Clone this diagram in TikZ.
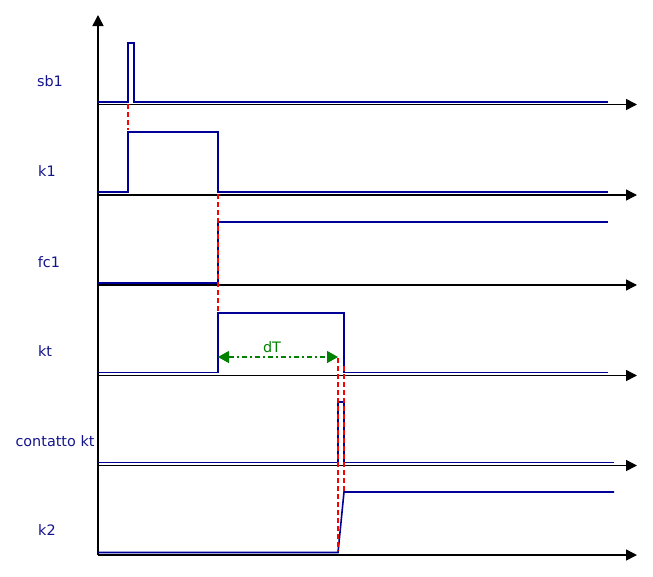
\documentclass[tikz,border=0pt]{standalone}
\usepackage{fontspec}
\setmainfont{DejaVu Sans}
\usetikzlibrary{arrows.meta}
\definecolor{sig}{RGB}{0,0,150}
\definecolor{lbl}{RGB}{20,20,140}
\definecolor{dtgreen}{RGB}{0,130,0}
\begin{document}
\begin{tikzpicture}[x=1pt,y=-1pt,
  axis/.style={black,line width=1.5pt,-{Triangle[length=11pt,width=11pt]}},
  signal/.style={sig,line width=1.6pt},
  guide/.style={red,line width=1.4pt,dash pattern=on 5pt off 3pt},
  lab/.style={lbl,font=\fontsize{14.4}{16}\selectfont,inner sep=0pt},
  dtline/.style={dtgreen,line width=1.3pt,dash pattern=on 5pt off 3pt on 2pt off 3pt,
     {Triangle[length=11pt,width=12pt]}-{Triangle[length=11pt,width=12pt]}}]
\useasboundingbox (0,0) rectangle (653,576);
% vertical axis
\coordinate (o) at (98,555);
\coordinate (ytop) at (98,15);
\draw[axis] (o) -- (ytop);
% horizontal axes
\foreach \n/\y in {a1/104.5,a2/195,a3/285,a4/375.5,a5/465.5,a6/555}{
  \coordinate (\n s) at (98,\y);
  \coordinate (\n e) at (637,\y);
  \draw[axis] (\n s) -- (\n e);
}
% labels
\node[lab] (lsb1) at (50,81) {sb1};
\node[lab] (lk1) at (47,171) {k1};
\node[lab] (lfc1) at (49,262) {fc1};
\node[lab] (lkt) at (45,351) {kt};
\node[lab] (lcont) at (55,441) {contatto kt};
\node[lab] (lk2) at (47,530) {k2};
% signals
\draw[signal] (98,102) -- (128,102) -- (128,43) -- (134,43) -- (134,102) -- (608,102);
\draw[signal] (98,192) -- (128,192) -- (128,132) -- (218,132) -- (218,192) -- (608,192);
\draw[signal] (98,283) -- (218,283) -- (218,222) -- (608,222);
\draw[signal] (98,372.5) -- (218,372.5) -- (218,313) -- (344,313) -- (344,372.5) -- (608,372.5);
\draw[signal] (98,462.5) -- (338,462.5) -- (338,402) -- (344,402) -- (344,462.5) -- (614,462.5);
\draw[signal] (98,552.5) -- (338,552.5) -- (344,492) -- (614,492);
% guides
\draw[guide] (128,104) -- (128,130);
\draw[guide] (218,194) -- (218,312);
\draw[guide] (338,358) -- (338,551);
\draw[guide] (344,366) -- (344,491);
% dT
\coordinate (dta) at (218,357);
\coordinate (dtb) at (338,357);
\draw[dtline] (dta) -- (dtb);
\node[lab,text=dtgreen] (ldt) at (272,347) {dT};
\end{tikzpicture}
\end{document}
